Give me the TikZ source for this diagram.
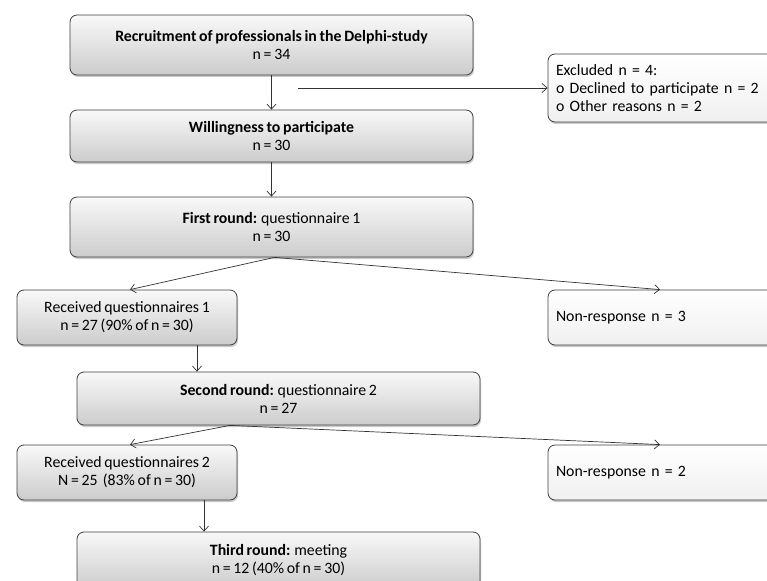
\documentclass[tikz,border=0pt]{standalone}
\usepackage{fontspec}
\setmainfont{Carlito}[WordSpace=0.75]
\usetikzlibrary{arrows.meta,shadows,calc}
\begin{document}
\begin{tikzpicture}[x=1pt,y=-1pt,
  font=\fontsize{15.8}{18}\selectfont,
  >={Straight Barb[length=5pt,width=9pt]},
  conn/.style={->,line width=0.7pt,draw=black!80},
  box/.style={draw=black!75,line width=0.8pt,rounded corners=7pt,
    top color=gray!5,bottom color=gray!40,align=center,inner sep=2pt,
    drop shadow={shadow xshift=1pt,shadow yshift=-2pt,fill=gray!70,opacity=0.6}},
  sidebox/.style={draw=black!75,line width=0.8pt,rounded corners=7pt,
    top color=white,bottom color=gray!12,align=left,inner xsep=7pt,inner ysep=2pt,
    text width=226pt,
    drop shadow={shadow xshift=1pt,shadow yshift=-2pt,fill=gray!70,opacity=0.6}}]
\useasboundingbox (0,0) rectangle (767,580);
\clip (0,0) rectangle (767,580);
\node[box,minimum width=403pt,minimum height=60pt] (recr) at (271.5,45)
  {\textbf{Recruitment of professionals in the Delphi-study}\\n = 34};
\node[sidebox,minimum width=242pt,minimum height=68pt] (excl) at (669,88)
  {Excluded n = 4:\\o Declined to participate n = 2\\o Other reasons n = 2};
\node[box,minimum width=403pt,minimum height=52pt] (will) at (271.5,136)
  {\textbf{Willingness to participate}\\n = 30};
\node[box,minimum width=403pt,minimum height=60pt] (first) at (271.5,227)
  {\textbf{First round:} questionnaire 1\\n = 30};
\node[box,minimum width=220pt,minimum height=55pt] (rec1) at (127,317.5)
  {Received questionnaires 1\\n = 27 (90\% of n = 30)};
\node[sidebox,minimum width=242pt,minimum height=55pt] (nr1) at (669,317.5)
  {Non-response n = 3};
\node[box,minimum width=403pt,minimum height=53pt] (second) at (278.5,398.5)
  {\textbf{Second round:} questionnaire 2\\n = 27};
\node[box,minimum width=220pt,minimum height=55pt] (rec2) at (127,472.5)
  {Received questionnaires 2\\N = 25~~(83\% of n = 30)};
\node[sidebox,minimum width=242pt,minimum height=55pt] (nr2) at (669,472.5)
  {Non-response n = 2};
\node[box,minimum width=403pt,minimum height=56pt] (third) at (278.5,560)
  {\textbf{Third round:} meeting\\n = 12 (40\% of n = 30)};
% connectors
\draw[conn] (recr.south) -- (will.north);
\coordinate (exstart) at (298,88);
\draw[conn] (exstart) -- (excl.west);
\draw[conn] (will.south) -- (first.north);
\coordinate (fs) at ($(first.south)+(3,0)$);
\coordinate (r1t) at ($(rec1.north)+(3,0)$);
\coordinate (n1t) at ($(nr1.north)+(-9,0)$);
\draw[conn] (fs) -- (r1t);
\draw[conn] (fs) -- (n1t);
\draw[conn] (rec1.south -| 197,0) -- (second.north -| 197,0);
\coordinate (ss) at (second.south -| 230,0);
\coordinate (r2t) at ($(rec2.north)+(3,0)$);
\coordinate (n2t) at ($(nr2.north)+(-9,0)$);
\draw[conn] (ss) -- (r2t);
\draw[conn] (ss) -- (n2t);
\draw[conn] (rec2.south -| 204,0) -- (third.north -| 204,0);
\end{tikzpicture}
\end{document}
